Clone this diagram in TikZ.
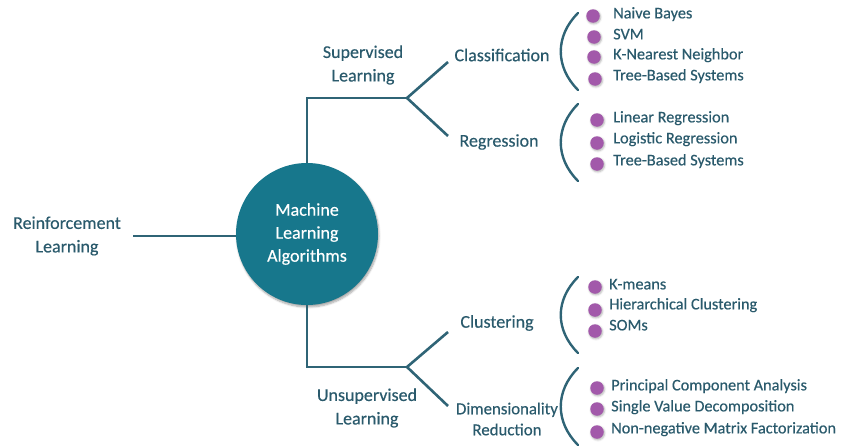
\documentclass[tikz,border=0pt]{standalone}
\usepackage{fontspec}
\setmainfont[FakeBold=0.35]{Carlito}
\usetikzlibrary{shadows.blur}
\definecolor{hub}{HTML}{17778C}
\definecolor{ink}{HTML}{2A5A6C}
\definecolor{wire}{HTML}{2F6476}
\definecolor{dot}{HTML}{A259AA}
\tikzset{
  conn/.style={draw=wire, line width=2.6pt},
  brace/.style={draw=wire, line width=2.4pt, line cap=round},
  hubnode/.style={circle, fill=hub, minimum size=142pt, inner sep=0pt,
    text=white, align=center, font=\fontsize{18}{23}\selectfont,
    blur shadow={shadow blur steps=6, shadow xshift=1pt, shadow yshift=-2pt, shadow opacity=35}},
  branchlabel/.style={text=ink, align=center, inner sep=0pt,
    font=\fontsize{18}{23.5}\selectfont},
  item/.style={text=ink, anchor=mid west, inner sep=0pt,
    font=\fontsize{16.3}{19}\selectfont},
  bullet/.style={circle, fill=dot, minimum size=13.5pt, inner sep=0pt,
    blur shadow={shadow blur steps=4, shadow xshift=0.8pt, shadow yshift=-1.2pt, shadow opacity=30}},
}
\begin{document}
\begin{tikzpicture}[x=1pt, y=-1pt]
\useasboundingbox (0,0) rectangle (848,447);

% central hub
\node[hubnode] (ml) at (307,234) {Machine\\Learning\\Algorithms};

% first-level categories
\node[branchlabel] (sup) at (363,65) {Supervised\\Learning};
\node[branchlabel] (uns) at (367,408) {Unsupervised\\Learning};
\node[branchlabel] (rl) at (67,236) {Reinforcement\\Learning};

% junction points of the elbow connectors
\coordinate (supj) at (407,98);
\coordinate (unsj) at (407,367);
\coordinate (rlend) at (133,236);
\coordinate (clsend) at (448,62);
\coordinate (regend) at (448,136);
\coordinate (cluend) at (448,332);
\coordinate (dimend) at (448,406);

\draw[conn] (ml.north) |- (supj);
\draw[conn] (ml.south) |- (unsj);
\draw[conn] (rlend) -- (rlend -| ml.west);
\draw[conn] (clsend) -- (supj) -- (regend);
\draw[conn] (cluend) -- (unsj) -- (dimend);

% second-level categories
\node[branchlabel] (cls) at (502,55) {Classification};
\node[branchlabel] (reg) at (499,142) {Regression};
\node[branchlabel] (clu) at (497,323) {Clustering};
\node[branchlabel, font=\fontsize{16.8}{21}\selectfont] (dim) at (507,419) {Dimensionality\\Reduction};

% brackets grouping the algorithms
\coordinate (b1t) at (578,13);  \coordinate (b1b) at (578,90);
\coordinate (b2t) at (578,104); \coordinate (b2b) at (578,181);
\coordinate (b3t) at (578,277); \coordinate (b3b) at (578,353);
\coordinate (b4t) at (578,368); \coordinate (b4b) at (578,445);
\draw[brace] (b1t) .. controls (555,36) and (555,67) .. (b1b);
\draw[brace] (b2t) .. controls (555,127) and (555,158) .. (b2b);
\draw[brace] (b3t) .. controls (555,300) and (555,330) .. (b3b);
\draw[brace] (b4t) .. controls (555,391) and (555,422) .. (b4b);

% classification algorithms
\node[bullet] (c1) at (593,16) {};
\node[bullet] (c2) at (594,37) {};
\node[bullet] (c3) at (594,57) {};
\node[bullet] (c4) at (595,79) {};
\node[item] (c1t) at (613,16) {Naive Bayes};
\node[item] (c2t) at (613,37) {SVM};
\node[item] (c3t) at (613,57) {K-Nearest Neighbor};
\node[item] (c4t) at (613,78) {Tree-Based Systems};

% regression algorithms
\node[bullet] (r1) at (597,120) {};
\node[bullet] (r2) at (597,143) {};
\node[bullet] (r3) at (597,164) {};
\node[item] (r1t) at (613,120) {Linear Regression};
\node[item] (r2t) at (613,141) {Logistic Regression};
\node[item] (r3t) at (613,163) {Tree-Based Systems};

% clustering algorithms
\node[bullet] (k1) at (595,287) {};
\node[bullet] (k2) at (595,310) {};
\node[bullet] (k3) at (595,331) {};
\node[item] (k1t) at (609,287) {K-means};
\node[item] (k2t) at (609,307) {Hierarchical Clustering};
\node[item] (k3t) at (609,328) {SOMs};

% dimensionality-reduction algorithms
\node[bullet] (d1) at (597,388) {};
\node[bullet] (d2) at (597,409) {};
\node[bullet] (d3) at (597,432) {};
\node[item] (d1t) at (611,388) {Principal Component Analysis};
\node[item] (d2t) at (611,409) {Single Value Decomposition};
\node[item] (d3t) at (611,431) {Non-negative Matrix Factorization};
\end{tikzpicture}
\end{document}
